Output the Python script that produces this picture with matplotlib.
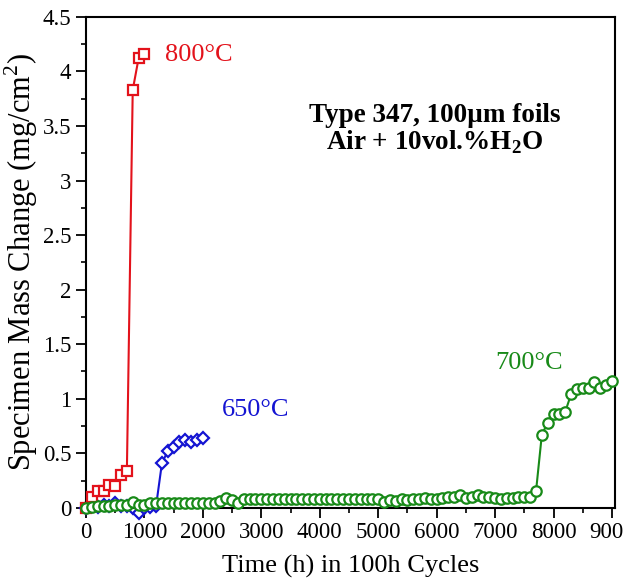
import matplotlib

matplotlib.use("Agg")

import matplotlib.pyplot as plt
from matplotlib.ticker import MultipleLocator

plt.rcParams["font.family"] = ["Liberation Serif", "DejaVu Serif"]
plt.rcParams["mathtext.fontset"] = "custom"
plt.rcParams["mathtext.rm"] = "Liberation Serif"
plt.rcParams["mathtext.bf"] = "Liberation Serif:bold"

# 800°C, squares
RED_TIME = [0, 100, 200, 300, 400, 500, 600, 700, 800, 900, 1000]
RED_MASS = [0.0, 0.10, 0.15, 0.15, 0.21, 0.20, 0.30, 0.34, 3.83, 4.12, 4.16]

# 650°C, diamonds
BLUE_TIME = [0, 100, 200, 300, 400, 500, 600, 700, 800, 900, 1000,
             1100, 1200, 1300, 1400, 1500, 1600, 1700, 1800, 1900, 2000]
BLUE_MASS = [0.0, 0.02, 0.01, 0.03, 0.02, 0.04, 0.02, 0.02, 0.0, -0.05, 0.0,
             0.01, 0.02, 0.41, 0.52, 0.56, 0.60, 0.62, 0.60, 0.62, 0.64]

# 700°C, circles (every 100 h up to 9000 h)
GREEN_TIME = list(range(0, 9100, 100))
GREEN_MASS = [
    0.0, 0.01, 0.02, 0.02, 0.02, 0.03, 0.03, 0.03, 0.05, 0.03,   # 0-900
    0.03, 0.04, 0.04, 0.04, 0.04, 0.04, 0.04, 0.04, 0.04, 0.04,  # 1000-1900
    0.04, 0.04, 0.04, 0.06, 0.09, 0.07, 0.04, 0.08, 0.08, 0.08,  # 2000-2900
    0.08, 0.08, 0.08, 0.08, 0.08, 0.08, 0.08, 0.08, 0.08, 0.08,  # 3000-3900
    0.08, 0.08, 0.08, 0.08, 0.08, 0.08, 0.08, 0.08, 0.08, 0.08,  # 4000-4900
    0.08, 0.05, 0.07, 0.06, 0.08, 0.07, 0.08, 0.08, 0.09, 0.08,  # 5000-5900
    0.08, 0.09, 0.10, 0.10, 0.12, 0.09, 0.10, 0.12, 0.10, 0.10,  # 6000-6900
    0.09, 0.08, 0.09, 0.09, 0.10, 0.10, 0.10, 0.15, 0.67, 0.78,  # 7000-7900
    0.86, 0.86, 0.88, 1.04, 1.09, 1.10, 1.10, 1.15, 1.10, 1.13,  # 8000-8900
    1.16,                                                        # 9000
]

X_TICKS = [0, 1000, 2000, 3000, 4000, 5000, 6000, 7000, 8000, 9000]
Y_TICKS = [0, 0.5, 1, 1.5, 2, 2.5, 3, 3.5, 4, 4.5]
Y_TICK_LABELS = ["0", "0.5", "1", "1.5", "2", "2.5", "3", "3.5", "4", "4.5"]

RED = "#e3121b"
BLUE = "#1414d2"
GREEN = "#188a18"

figure = plt.figure(figsize=(6.23, 5.83), dpi=100)
axis = figure.add_axes([0.138, 0.129, 0.849, 0.842])

axis.plot(BLUE_TIME, BLUE_MASS, color=BLUE, linewidth=1.5, marker="D",
          markersize=6.5, markerfacecolor="white", markeredgewidth=1.6,
          zorder=2, clip_on=False)
axis.plot(RED_TIME, RED_MASS, color=RED, linewidth=1.5, marker="s",
          markersize=7.5, markerfacecolor="white", markeredgewidth=1.6,
          zorder=3, clip_on=False)
axis.plot(GREEN_TIME, GREEN_MASS, color=GREEN, linewidth=1.5, marker="o",
          markersize=7.5, markerfacecolor="white", markeredgewidth=1.6,
          zorder=4, clip_on=False)

axis.text(1350, 4.15, "800°C", color=RED, fontsize=19, va="center", ha="left")
axis.text(2330, 0.90, "650°C", color=BLUE, fontsize=19, va="center", ha="left")
axis.text(7000, 1.33, "700°C", color=GREEN, fontsize=19, va="center", ha="left")
axis.text(5960, 3.47, "Type 347, 100µm foils\n" + r"Air + 10vol.%H$_\mathbf{2}$O",
          fontsize=19.5, fontweight="bold", ha="center", va="center",
          linespacing=1.0)

axis.set_xlim(0, 9050)
axis.set_ylim(0, 4.5)
axis.set_xticks(X_TICKS)
axis.set_yticks(Y_TICKS)
axis.set_yticklabels(Y_TICK_LABELS)
axis.xaxis.set_minor_locator(MultipleLocator(500))
axis.yaxis.set_minor_locator(MultipleLocator(0.25))
axis.tick_params(axis="both", which="major", direction="out", length=7,
                 width=1.3, labelsize=16.5, top=False, right=False)
axis.tick_params(axis="both", which="minor", direction="out", length=3.5,
                 width=1.2, top=False, right=False)
for spine in axis.spines.values():
    spine.set_linewidth(1.5)

axis.set_xlabel("Time (h) in 100h Cycles", fontsize=19, labelpad=8)
axis.set_ylabel(r"Specimen Mass Change (mg/cm$^2$)", fontsize=22, labelpad=2)

figure.savefig("out.png", dpi=100)
